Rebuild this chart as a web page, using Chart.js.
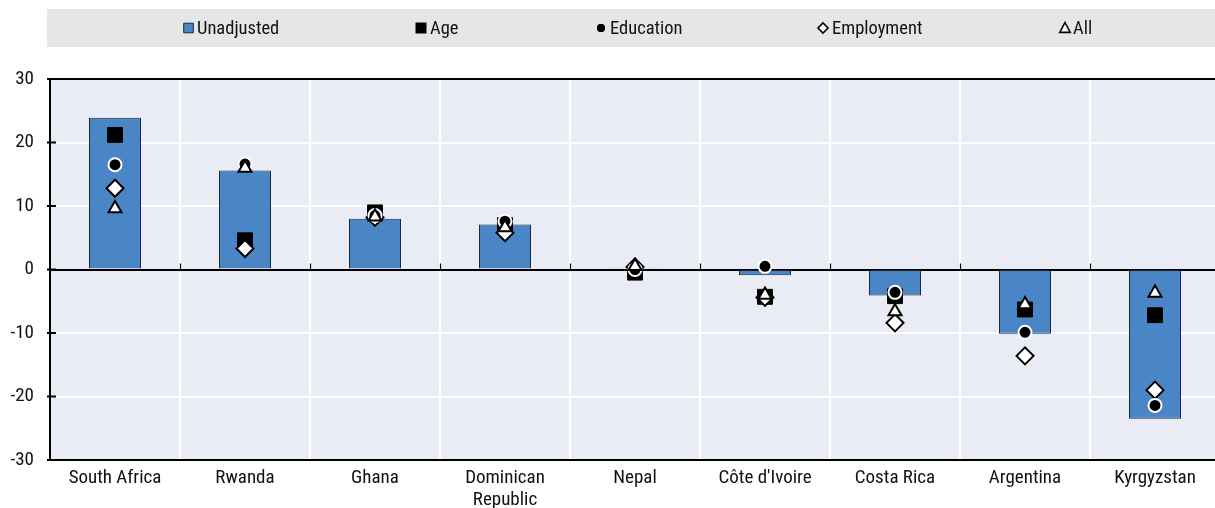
<!DOCTYPE html>
<html>
<head>
<meta charset="utf-8">
<script src="https://cdn.jsdelivr.net/npm/chart.js@4.4.1/dist/chart.umd.min.js"></script>
<style>
  html, body { margin: 0; padding: 0; background: #ffffff; overflow: hidden; }
  #wrap { width: 1215px; height: 508px; position: relative; overflow: hidden; }
</style>
</head>
<body>
<div id="wrap"><canvas id="c" width="1220" height="508"></canvas></div>
<script>
const categories = ['South Africa', 'Rwanda', 'Ghana', ['Dominican', 'Republic'], 'Nepal', "Côte d'Ivoire", 'Costa Rica', 'Argentina', 'Kyrgyzstan'];
const unadjusted = [23.9, 15.6, 8.0, 7.1, 0.2, -0.9, -4.1, -10.1, -23.5];
const age        = [21.2, 4.6, 9.0, 7.0, -0.5, -4.3, -4.2, -6.3, -7.2];
const education  = [16.5, 16.6, 8.5, 7.6, 0.0, 0.5, -3.6, -9.9, -21.4];
const employment = [12.8, 3.3, 8.2, 5.8, 0.4, -4.4, -8.4, -13.6, -19.0];
const allAdj     = [9.6, 16.0, 8.3, 6.6, 0.5, -4.0, -6.6, -5.5, -3.7];
const yTicks = [-30, -20, -10, 0, 10, 20, 30];
const legendLabels = ['Unadjusted', 'Age', 'Education', 'Employment', 'All'];

const FONT = '"Liberation Sans Narrow", "Arial Narrow", "Roboto Condensed", "Liberation Sans", Arial, sans-serif';
const BAR = '#4a86c6';
const BG = '#e9ecf5';

function drawMarker(ctx, style, x, y, r) {
  ctx.save();
  ctx.beginPath();
  if (style === 'box') {
    ctx.rect(x - r, y - r, 2 * r, 2 * r);
    ctx.fillStyle = BAR; ctx.fill();
    ctx.lineWidth = 1; ctx.strokeStyle = '#1a2a3a'; ctx.stroke();
  } else if (style === 'square') {
    ctx.rect(x - r, y - r, 2 * r, 2 * r);
    ctx.fillStyle = '#000'; ctx.fill();
  } else if (style === 'circle') {
    ctx.arc(x, y, r, 0, Math.PI * 2);
    ctx.fillStyle = '#000'; ctx.fill();
    ctx.lineWidth = 1; ctx.strokeStyle = '#fff'; ctx.stroke();
  } else if (style === 'diamond') {
    ctx.moveTo(x - r, y); ctx.lineTo(x, y - r); ctx.lineTo(x + r, y); ctx.lineTo(x, y + r); ctx.closePath();
    ctx.fillStyle = '#fff'; ctx.fill();
    ctx.lineWidth = 1.6; ctx.strokeStyle = '#000'; ctx.stroke();
  } else if (style === 'triangle') {
    ctx.moveTo(x, y - r); ctx.lineTo(x + r * 0.95, y + r * 0.8); ctx.lineTo(x - r * 0.95, y + r * 0.8); ctx.closePath();
    ctx.fillStyle = '#fff'; ctx.fill();
    ctx.lineWidth = 1.6; ctx.strokeStyle = '#000'; ctx.stroke();
  }
  ctx.restore();
}

const legendItems = [
  { text: legendLabels[0], style: 'box', mx: 188.5, r: 4.8, tx: 197 },
  { text: legendLabels[1], style: 'square', mx: 421, r: 5.5, tx: 430 },
  { text: legendLabels[2], style: 'circle', mx: 601, r: 4.8, tx: 610 },
  { text: legendLabels[3], style: 'diamond', mx: 823, r: 5, tx: 832 },
  { text: legendLabels[4], style: 'triangle', mx: 1065, r: 5.5, tx: 1073 }
];

const decor = {
  id: 'decor',
  beforeDraw(chart) {
    const { ctx, chartArea: a } = chart;
    ctx.save();
    ctx.fillStyle = BG;
    ctx.fillRect(a.left, a.top, a.right - a.left, a.bottom - a.top);
    ctx.fillStyle = '#e6e6e6';
    ctx.fillRect(47, 9, chart.width - 47, 38);
    ctx.restore();
  },
  afterDraw(chart) {
    const { ctx, chartArea: a, scales } = chart;
    ctx.save();
    ctx.strokeStyle = '#000';
    ctx.lineWidth = 2;
    ctx.beginPath();
    ctx.moveTo(a.left - 1, a.top);
    ctx.lineTo(a.right, a.top);
    ctx.stroke();
    ctx.lineWidth = 2;
    scales.y.ticks.forEach(t => {
      const py = scales.y.getPixelForValue(t.value);
      ctx.beginPath();
      ctx.moveTo(a.left - 3, py);
      ctx.lineTo(a.left + 6, py);
      ctx.stroke();
    });
    const zy = scales.y.getPixelForValue(0);
    const n = categories.length;
    const step = (a.right - a.left) / n;
    ctx.lineWidth = 1.2;
    for (let i = 1; i < n; i++) {
      const px = Math.round(a.left + i * step) + 0.5;
      ctx.beginPath();
      ctx.moveTo(px, zy - 6);
      ctx.lineTo(px, zy);
      ctx.stroke();
    }
    ctx.font = '18.5px ' + FONT;
    ctx.textBaseline = 'middle';
    ctx.textAlign = 'left';
    legendItems.forEach(it => {
      drawMarker(ctx, it.style, it.mx, 28, it.r);
      ctx.fillStyle = '#111';
      ctx.fillText(it.text, it.tx, 29);
    });
    ctx.restore();
  }
};

const pointDs = (label, data, style, radius, bg, border, bw, order) => ({
  type: 'line',
  label: label,
  data: data,
  showLine: false,
  pointStyle: style,
  pointRadius: radius,
  pointHoverRadius: radius,
  pointBackgroundColor: bg,
  pointBorderColor: border,
  pointBorderWidth: bw,
  pointHoverBorderWidth: bw,
  order: order
});

new Chart(document.getElementById('c'), {
  type: 'bar',
  data: {
    labels: categories,
    datasets: [
      {
        label: legendLabels[0],
        data: unadjusted,
        backgroundColor: BAR,
        borderColor: '#1a2a3a',
        borderWidth: 1,
        barPercentage: 0.4,
        categoryPercentage: 1.0,
        order: 10
      },
      pointDs(legendLabels[1], age, 'rect', 10.5, '#000', '#000', 1, 4),
      pointDs(legendLabels[2], education, 'circle', 6.5, '#000', '#fff', 2, 2),
      pointDs(legendLabels[3], employment, 'rectRot', 8.5, '#fff', '#000', 2, 3),
      pointDs(legendLabels[4], allAdj, 'triangle', 7.5, '#fff', '#000', 2, 1)
    ]
  },
  plugins: [decor],
  options: {
    responsive: false,
    animation: false,
    events: [],
    layout: { autoPadding: false, padding: { top: 79, left: 0, right: 0, bottom: 0 } },
    plugins: { legend: { display: false }, tooltip: { enabled: false } },
    scales: {
      x: {
        offset: true,
        grid: { offset: true, color: '#ffffff', lineWidth: 2, drawTicks: false },
        border: { display: true, color: '#000', width: 2 },
        ticks: { color: '#111', font: { family: FONT, size: 19, lineHeight: 1.12 }, padding: 8, maxRotation: 0, autoSkip: false },
        afterFit(s) { s.height = 48; s.paddingLeft = 0; s.paddingRight = 0; }
      },
      y: {
        min: -30,
        max: 30,
        afterBuildTicks(s) { s.ticks = yTicks.map(v => ({ value: v })); },
        grid: {
          color: ctx => (ctx.tick && ctx.tick.value === 0) ? '#000' : '#ffffff',
          lineWidth: 2,
          drawTicks: false
        },
        border: { display: true, color: '#000', width: 2 },
        ticks: { color: '#111', font: { family: FONT, size: 19 }, padding: 16 },
        afterFit(s) { s.width = 50; }
      }
    }
  }
});
</script>
</body>
</html>
